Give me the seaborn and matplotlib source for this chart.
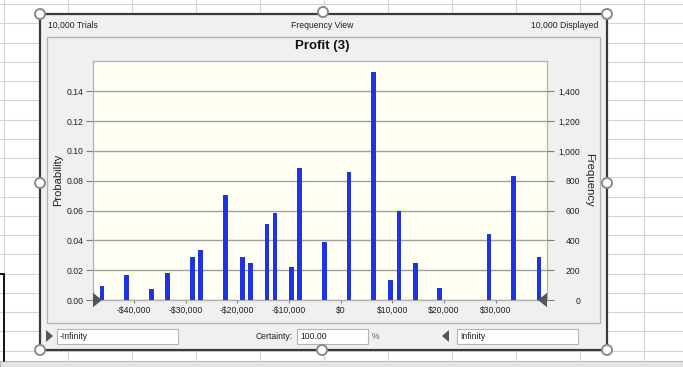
import numpy as np
import matplotlib
matplotlib.use("Agg")
import matplotlib.pyplot as plt
import seaborn as sns
from matplotlib.patches import Rectangle, Circle, Polygon

# values (10,000 trials)
profit = [-46130, -41390, -36600, -33470, -28700, -27150, -22320, -19030,
          -17410, -14250, -12700, -9480, -7930, -3170, 1600, 6310, 9670,
          11280, 14430, 19170, 28680, 33390, 38350]
freq = [94, 168, 72, 179, 291, 333, 707, 291, 248, 510, 584, 221, 884,
        387, 861, 1528, 134, 600, 250, 78, 441, 834, 291]
trials = 10000
prob = [f / trials for f in freq]

x_ticks = [-40000, -30000, -20000, -10000, 0, 10000, 20000, 30000]
prob_ticks = [0.00, 0.02, 0.04, 0.06, 0.08, 0.10, 0.12, 0.14]
freq_ticks = [0, 200, 400, 600, 800, 1000, 1200, 1400]

sns.set_style("white")
plt.rcParams['font.family'] = ['Liberation Sans', 'DejaVu Sans']

W, H = 683, 367
fig = plt.figure(figsize=(W / 100, H / 100), dpi=100)

# background layer in pixel coordinates (excel sheet + window chrome)
bg = fig.add_axes([0, 0, 1, 1], zorder=0)
bg.set_xlim(0, W)
bg.set_ylim(H, 0)
bg.axis("off")

for gx in range(4, W, 64):
    bg.plot([gx, gx], [0, 361], color="#d4d4d4", lw=0.8)
for gy in np.arange(4, 361, 19.25):
    bg.plot([0, W], [gy, gy], color="#d4d4d4", lw=0.8)
bg.plot([4, 4], [273.5, 361], color="black", lw=1.3)
bg.plot([0, 4], [273.5, 273.5], color="black", lw=1.3)
bg.add_patch(Rectangle((0, 361), W, 6, facecolor="#e4e4e4", edgecolor="#b8b8b8", lw=0.8))

# window
bg.add_patch(Rectangle((40, 14), 567, 336, facecolor="#f0f0f0", edgecolor="#3a3a3a", lw=1.6, zorder=2))
bg.add_patch(Rectangle((47, 37), 553, 286, facecolor="#f0f0f0", edgecolor="#b0b0b0", lw=0.9, zorder=2))

small = 6.2
bg.text(48, 25.5, "10,000 Trials", fontsize=small, ha="left", va="center", color="#202020", zorder=3)
bg.text(322, 25.5, "Frequency View", fontsize=small, ha="center", va="center", color="#202020", zorder=3)
bg.text(598, 25.5, "10,000 Displayed", fontsize=small, ha="right", va="center", color="#202020", zorder=3)
bg.text(322, 45.5, "Profit (3)", fontsize=9.5, fontweight="bold", ha="center", va="center", color="#101010", zorder=3)
bg.text(58, 180, "Probability", fontsize=8, rotation=90, ha="center", va="center", color="#202020", zorder=3)
bg.text(589, 180, "Frequency", fontsize=8.2, rotation=-90, ha="center", va="center", color="#202020", zorder=3)

# bottom controls
bg.add_patch(Polygon([[46, 330], [46, 342], [53, 336]], closed=True, facecolor="#555555", edgecolor="none", zorder=3))
bg.add_patch(Rectangle((57, 329), 121, 15, facecolor="white", edgecolor="#b4b4b4", lw=0.8, zorder=3))
bg.text(60, 336.5, "-Infinity", fontsize=small, ha="left", va="center", color="#202020", zorder=4)
bg.text(293, 336.5, "Certainty:", fontsize=small, ha="right", va="center", color="#202020", zorder=4)
bg.add_patch(Rectangle((297, 329), 71, 15, facecolor="white", edgecolor="#b4b4b4", lw=0.8, zorder=3))
bg.text(300, 336.5, "100.00", fontsize=small, ha="left", va="center", color="#202020", zorder=4)
bg.text(376, 336.5, "%", fontsize=small, ha="center", va="center", color="#606060", zorder=4)
bg.add_patch(Polygon([[449, 330], [449, 342], [442, 336]], closed=True, facecolor="#555555", edgecolor="none", zorder=3))
bg.add_patch(Rectangle((457, 329), 121, 15, facecolor="white", edgecolor="#b4b4b4", lw=0.8, zorder=3))
bg.text(460, 336.5, "Infinity", fontsize=small, ha="left", va="center", color="#202020", zorder=4)

# resize handles
for hx, hy in [(40, 14), (323, 12), (607, 14), (40, 183), (607, 183),
               (40, 350), (322, 350), (607, 350)]:
    bg.add_patch(Circle((hx, hy), 5, facecolor="white", edgecolor="#8a8a8a", lw=1.4, zorder=5))

# main chart
x0, x1, y0, y1 = 93, 547, 61, 300
ax = fig.add_axes([x0 / W, 1 - y1 / H, (x1 - x0) / W, (y1 - y0) / H], zorder=2)
ax.set_facecolor("#fffff4")

min_gap = np.diff(np.sort(profit)).min()
sns.barplot(x=profit, y=prob, native_scale=True, width=900 / min_gap,
            color="#1e34e2", saturation=1, linewidth=0, errorbar=None, ax=ax, zorder=3)

ax.set_xlim(-47900, 39900)
ax.set_ylim(0, 0.1604)
ax.set_xticks(x_ticks)
ax.set_xticklabels([("-$" if v < 0 else "$") + f"{abs(v):,}" for v in x_ticks])
ax.set_yticks(prob_ticks)
ax.set_yticklabels([f"{v:.2f}" for v in prob_ticks])
ax.set_xlabel("")
ax.set_ylabel("")
ax.grid(axis="y", color="#a0a0a0", lw=1)
ax.grid(axis="x", visible=False)
ax.set_axisbelow(True)
for s in ax.spines.values():
    s.set_color("#b0b0b0")
    s.set_linewidth(0.9)
ax.tick_params(axis="y", left=True, length=5, width=0.8, color="#808080",
               labelsize=small, labelcolor="#202020", pad=1.5)
ax.tick_params(axis="x", bottom=True, length=2.5, width=0.8, color="#808080",
               labelsize=small, labelcolor="#202020", pad=2)

ax2 = ax.twinx()
ax2.set_ylim(0, 0.1604 * trials)
ax2.set_yticks(freq_ticks)
ax2.set_yticklabels([f"{v:,}" for v in freq_ticks])
for lab in ax2.get_yticklabels():
    lab.set_horizontalalignment("right")
ax2.tick_params(axis="y", right=True, length=5, width=0.8, color="#808080",
                labelsize=small, labelcolor="#202020", pad=19)
ax2.grid(False)
for s in ax2.spines.values():
    s.set_visible(False)

# range grabbers at the baseline
ax.add_patch(Polygon([[0, -0.03], [0, 0.03], [0.02, 0]], closed=True, transform=ax.transAxes,
                     facecolor="#555555", edgecolor="none", clip_on=False, zorder=6))
ax.add_patch(Polygon([[1, -0.03], [1, 0.03], [0.98, 0]], closed=True, transform=ax.transAxes,
                     facecolor="#555555", edgecolor="none", clip_on=False, zorder=6))

fig.savefig("out.png", dpi=100)
